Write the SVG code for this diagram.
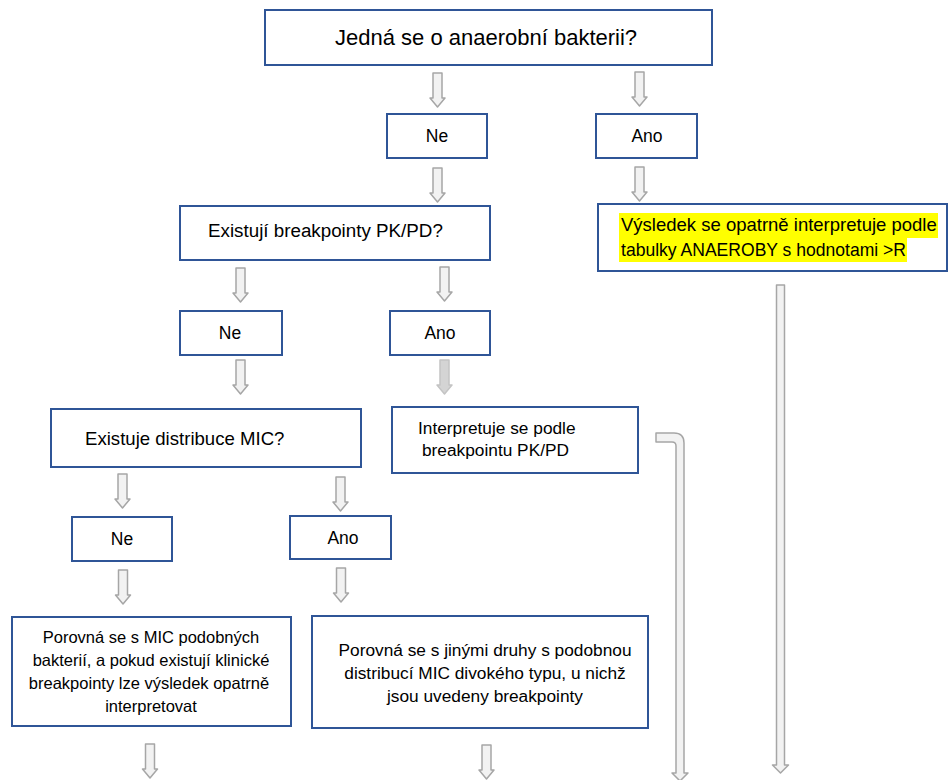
<svg xmlns="http://www.w3.org/2000/svg" xmlns:xlink="http://www.w3.org/1999/xlink" width="951" height="780" viewBox="0 0 951 780">
<style>
.box{fill:#fff;stroke:#2F5597;stroke-width:2}
.t{font-family:"Liberation Sans",Arial,sans-serif;fill:#000}
.arr{fill:#F2F2F2;stroke:#A6A6A6;stroke-width:1.5;stroke-linejoin:round}
.arrd{fill:#D4D4D4;stroke:#C4C4C4;stroke-width:1.5;stroke-linejoin:round}
</style>
<defs>
<path id="ba" d="M-4.5,0 H4.5 V25 H7.5 L0,34 L-7.5,25 H-4.5 Z"/>
</defs>
<rect width="951" height="780" fill="#fff"/>
<g id="connectors">
<use xlink:href="#ba" class="arr" x="437.5" y="73"/>
<use xlink:href="#ba" class="arr" x="639.5" y="72"/>
<use xlink:href="#ba" class="arr" x="437.5" y="168"/>
<use xlink:href="#ba" class="arr" x="639.5" y="167"/>
<use xlink:href="#ba" class="arr" x="240.5" y="268"/>
<use xlink:href="#ba" class="arr" x="444.5" y="267"/>
<use xlink:href="#ba" class="arr" x="240.5" y="360"/>
<use xlink:href="#ba" class="arrd" x="444.5" y="360"/>
<use xlink:href="#ba" class="arr" x="122.5" y="474"/>
<use xlink:href="#ba" class="arr" x="340.5" y="477"/>
<use xlink:href="#ba" class="arr" x="123" y="570"/>
<use xlink:href="#ba" class="arr" x="341" y="568"/>
<use xlink:href="#ba" class="arr" x="150" y="744"/>
<use xlink:href="#ba" class="arr" x="486.5" y="745"/>
<path class="arr" d="M776.5,285 H784.5 V765 H788.5 L780.5,773 L772.5,765 H776.5 Z"/>
<path class="arr" d="M656,433 H674 Q684,433 684,443 V773 H688 L680,781 L672,773 H676 V446 Q676,442 672,442 H656 Z"/>
</g>
<g id="n-anaerob">
<rect class="box" x="265" y="10" width="447" height="55"/>
<text class="t" x="335" y="45" font-size="22">Jedná se o anaerobní bakterii?</text>
</g>
<g id="n-ne1">
<rect class="box" x="387" y="114" width="100" height="44"/>
<text class="t" x="437" y="142" font-size="17.5" text-anchor="middle">Ne</text>
</g>
<g id="n-ano1">
<rect class="box" x="596" y="114" width="101" height="44"/>
<text class="t" x="647" y="142" font-size="17.5" text-anchor="middle">Ano</text>
</g>
<g id="n-vysledek">
<rect class="box" x="598" y="204" width="349" height="67"/>
<rect x="619" y="213" width="319" height="25" fill="#FFFF00"/>
<rect x="619" y="238" width="288" height="24" fill="#FFFF00"/>
<text class="t" x="621" y="231" font-size="18.5">Výsledek se opatrně interpretuje podle</text>
<text class="t" x="621" y="256" font-size="18.5" textLength="285" lengthAdjust="spacingAndGlyphs">tabulky ANAEROBY s hodnotami &gt;R</text>
</g>
<g id="n-pkpd">
<rect class="box" x="180" y="206" width="310" height="54"/>
<text class="t" x="208" y="237" font-size="18.8">Existují breakpointy PK/PD?</text>
</g>
<g id="n-ne2">
<rect class="box" x="180" y="311" width="102" height="44"/>
<text class="t" x="230" y="339" font-size="17.5" text-anchor="middle">Ne</text>
</g>
<g id="n-ano2">
<rect class="box" x="390" y="311" width="100" height="44"/>
<text class="t" x="440" y="339" font-size="17.5" text-anchor="middle">Ano</text>
</g>
<g id="n-mic">
<rect class="box" x="51" y="409" width="310" height="58"/>
<text class="t" x="85" y="445" font-size="18.6">Existuje distribuce MIC?</text>
</g>
<g id="n-interpretuje">
<rect class="box" x="392" y="407" width="246" height="66"/>
<text class="t" x="418" y="434" font-size="17.3">Interpretuje se podle</text>
<text class="t" x="422" y="456" font-size="17.3">breakpointu PK/PD</text>
</g>
<g id="n-ne3">
<rect class="box" x="72" y="517" width="100" height="44"/>
<text class="t" x="122" y="545" font-size="17.5" text-anchor="middle">Ne</text>
</g>
<g id="n-ano3">
<rect class="box" x="290" y="516" width="101" height="43"/>
<text class="t" x="343" y="544" font-size="17.5" text-anchor="middle">Ano</text>
</g>
<g id="n-porovna1">
<rect class="box" x="12" y="617" width="279" height="109"/>
<text class="t" font-size="16.5" text-anchor="middle"><tspan x="151" y="643">Porovná se s MIC podobných</tspan><tspan x="151" y="666">bakterií, a pokud existují klinické</tspan><tspan x="149" y="689">breakpointy lze výsledek opatrně</tspan><tspan x="151" y="712">interpretovat</tspan></text>
</g>
<g id="n-porovna2">
<rect class="box" x="312" y="616" width="336" height="112"/>
<text class="t" font-size="17.3" text-anchor="middle"><tspan x="485" y="656">Porovná se s jinými druhy s podobnou</tspan><tspan x="485" y="679">distribucí MIC divokého typu, u nichž</tspan><tspan x="485" y="702">jsou uvedeny breakpointy</tspan></text>
</g>
</svg>
